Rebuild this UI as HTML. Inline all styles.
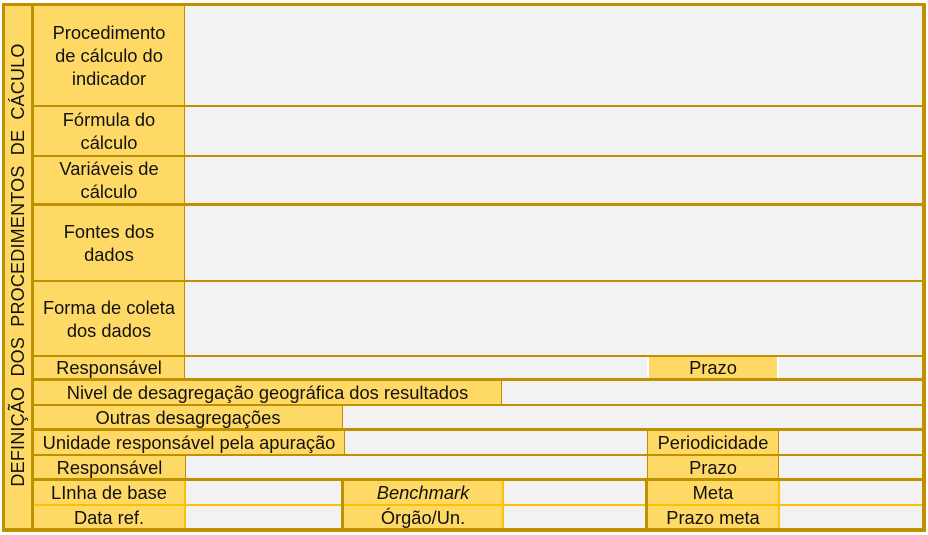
<!DOCTYPE html>
<html><head><meta charset="utf-8"><style>
body{margin:0;width:928px;height:535px;background:#fff;position:relative;overflow:hidden;font-family:"Liberation Sans",Arial,sans-serif;color:#111}
div{position:absolute;box-sizing:border-box}
.y{background:#ffd966}
.g{background:#f2f2f2}
.d{background:#bf9000}
.o{background:#ffc000}
.t{display:flex;align-items:center;justify-content:center;text-align:center;font-size:18.3px;line-height:23px;white-space:nowrap}
</style></head><body>
<div class="d" style="left:2px;top:3px;width:924px;height:529px"></div>
<div class="y" style="left:5px;top:6px;width:26px;height:522px"></div>
<div style="left:5px;top:6px;width:26px;height:522px;">
  <div style="left:13px;top:259px;width:470px;height:22px;transform:translate(-50%,-50%) rotate(-90deg);font-size:18px;line-height:22px;text-align:center;white-space:nowrap;word-spacing:5px;letter-spacing:0.2px">DEFINIÇÃO DOS PROCEDIMENTOS DE CÁCULO</div>
</div>

<div class="y t" style="left:34px;top:6px;width:150px;height:99px">Procedimento<br>de cálculo do<br>indicador</div>
<div class="g" style="left:185px;top:6px;width:737px;height:99px"></div>
<div class="y t" style="left:34px;top:107px;width:150px;height:48px">Fórmula do<br>cálculo</div>
<div class="g" style="left:185px;top:107px;width:737px;height:48px"></div>
<div class="y t" style="left:34px;top:157px;width:150px;height:46px">Variáveis de<br>cálculo</div>
<div class="g" style="left:185px;top:157px;width:737px;height:46px"></div>
<div class="y t" style="left:34px;top:206px;width:150px;height:74px">Fontes dos<br>dados</div>
<div class="g" style="left:185px;top:206px;width:737px;height:74px"></div>
<div class="y t" style="left:34px;top:282px;width:150px;height:73px">Forma de coleta<br>dos dados</div>
<div class="g" style="left:185px;top:282px;width:737px;height:73px"></div>

<div class="y t" style="left:34px;top:357px;width:150px;height:21px">Responsável</div>
<div class="g" style="left:185px;top:357px;width:462px;height:21px"></div>
<div style="left:647px;top:357px;width:2px;height:21px;background:#fff"></div>
<div class="y t" style="left:649px;top:357px;width:128px;height:21px">Prazo</div>
<div style="left:777px;top:357px;width:2px;height:21px;background:#fff"></div>
<div class="g" style="left:779px;top:357px;width:143px;height:21px"></div>

<div class="y t" style="left:34px;top:381px;width:467px;height:23px">Nivel de desagregação geográfica dos resultados</div>
<div class="g" style="left:502px;top:381px;width:420px;height:23px"></div>
<div class="y t" style="left:34px;top:406px;width:308px;height:22px">Outras desagregações</div>
<div class="g" style="left:343px;top:406px;width:579px;height:22px"></div>
<div class="y t" style="left:34px;top:431px;width:310px;height:23px">Unidade responsável pela apuração</div>
<div class="g" style="left:345px;top:431px;width:302px;height:23px"></div>
<div class="y t" style="left:648px;top:431px;width:130px;height:23px">Periodicidade</div>
<div class="g" style="left:779px;top:431px;width:143px;height:23px"></div>
<div class="y t" style="left:34px;top:456px;width:151px;height:22px">Responsável</div>
<div class="g" style="left:186px;top:456px;width:461px;height:22px"></div>
<div class="y t" style="left:648px;top:456px;width:130px;height:22px">Prazo</div>
<div class="g" style="left:779px;top:456px;width:143px;height:22px"></div>

<div class="o" style="left:34px;top:481px;width:888px;height:47px"></div>
<div class="y t" style="left:34px;top:481px;width:150px;height:23px">LInha de base</div>
<div class="g" style="left:186px;top:481px;width:155px;height:23px"></div>
<div class="y t" style="left:344px;top:481px;width:158px;height:23px"><i>Benchmark</i></div>
<div class="g" style="left:504px;top:481px;width:141px;height:23px"></div>
<div class="y t" style="left:648px;top:481px;width:130px;height:23px">Meta</div>
<div class="g" style="left:780px;top:481px;width:142px;height:23px"></div>

<div class="y t" style="left:34px;top:506px;width:150px;height:22px">Data ref.</div>
<div class="g" style="left:186px;top:506px;width:155px;height:22px"></div>
<div class="y t" style="left:344px;top:506px;width:158px;height:22px">Órgão/Un.</div>
<div class="g" style="left:504px;top:506px;width:141px;height:22px"></div>
<div class="y t" style="left:648px;top:506px;width:130px;height:22px">Prazo meta</div>
<div class="g" style="left:780px;top:506px;width:142px;height:22px"></div>
<div class="d" style="left:341px;top:481px;width:3px;height:47px"></div>
<div class="d" style="left:645px;top:481px;width:3px;height:47px"></div>
</body></html>
